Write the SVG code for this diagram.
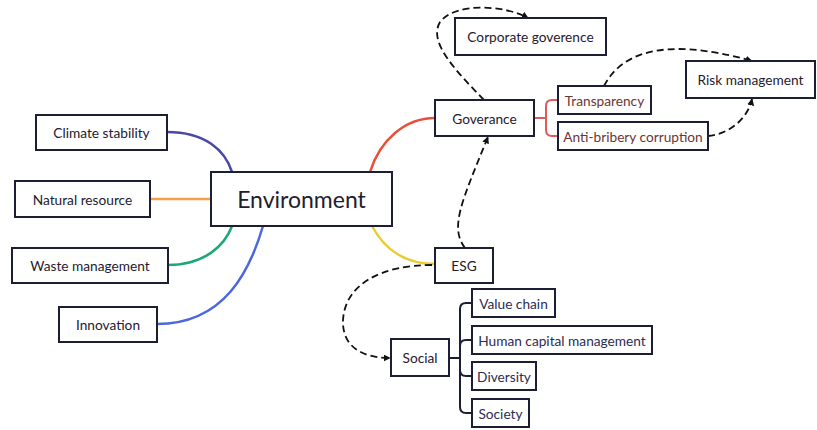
<svg xmlns="http://www.w3.org/2000/svg" width="817" height="430" viewBox="0 0 817 430">
<style>
.box{fill:#fff;stroke:#1c1e36;stroke-width:2}
.t{font-family:Lato,"Noto Sans",sans-serif;font-size:13.7px;fill:#1e2030;text-anchor:middle;dominant-baseline:central}
.tr{fill:#6b3535}
.tn{fill:#2b2d55}
.big{font-size:23px}
.c{fill:none;stroke-width:2.5}
.d{fill:none;stroke:#111;stroke-width:1.8;stroke-dasharray:7 4}
.k{fill:none;stroke:#1c1e36;stroke-width:2}
</style>
<defs>
<marker id="ah" viewBox="0 0 10 10" refX="9" refY="5" markerWidth="7" markerHeight="7" orient="auto-start-reverse" markerUnits="userSpaceOnUse">
<path d="M0,0 L10,5 L0,10 z" fill="#111"/>
</marker>
</defs>
<rect width="817" height="430" fill="#fff"/>
<g id="connectors">
<path class="c" stroke="#4a48a6" d="M167,132 C205,132 225,150 232,172"/>
<path class="c" stroke="#f2a24c" d="M150,199 L211,199"/>
<path class="c" stroke="#1aa874" d="M168,265 C205,265 225,245 232,226"/>
<path class="c" stroke="#4a68dc" d="M157,324 C225,324 250,270 263,226"/>
<path class="c" stroke="#e8503a" d="M370,172 C380,140 405,118 435,118"/>
<path class="c" stroke="#e8cc30" d="M372,226 C385,250 405,264 435,264"/>
<path fill="none" stroke="#e05a5a" stroke-width="2" d="M534,118 L546,118 M558,100 L552,100 Q546,100 546,106 L546,130 Q546,136 552,136 L558,136"/>
<path class="k" d="M449,358 L460,358 M472,303 L466,303 Q460,303 460,309 L460,407 Q460,413 466,413 L472,413 M460,346 Q460,340 466,340 L472,340 M460,370 Q460,376 466,376 L472,376"/>
<path class="d" marker-end="url(#ah)" d="M484,100 C455,70 428,42 440,22 C455,2 505,5 528,18"/>
<path class="d" marker-end="url(#ah)" d="M604,86 C620,55 660,35 752,61"/>
<path class="d" marker-end="url(#ah)" d="M708,136 C730,134 748,118 752,99"/>
<path class="d" marker-end="url(#ah)" d="M465,248 C450,228 460,205 488,137"/>
<path class="d" marker-end="url(#ah)" d="M432,265 C380,265 345,285 343,320 C342,345 360,358 390,358"/>
</g>
<g id="environment"><rect class="box" x="211" y="172" width="181" height="54"/><text class="t big" x="301.5" y="199">Environment</text></g>
<g id="climate"><rect class="box" x="36" y="115" width="131" height="35"/><text class="t" x="101.5" y="132.5">Climate stability</text></g>
<g id="natural"><rect class="box" x="15" y="181" width="135" height="36"/><text class="t" x="82.5" y="199">Natural resource</text></g>
<g id="waste"><rect class="box" x="12" y="248" width="156" height="35"/><text class="t" x="90" y="265.5">Waste management</text></g>
<g id="innovation"><rect class="box" x="59" y="307" width="98" height="35"/><text class="t" x="108" y="324.5">Innovation</text></g>
<g id="governance"><rect class="box" x="435" y="100" width="99" height="36"/><text class="t" x="484.5" y="118">Goverance</text></g>
<g id="corporate"><rect class="box" x="455" y="18" width="151" height="37"/><text class="t" x="530.5" y="36.5">Corporate goverence</text></g>
<g id="transparency"><rect class="box" x="558" y="86" width="93" height="28"/><text class="t tr" x="604.5" y="100">Transparency</text></g>
<g id="antibribery"><rect class="box" x="558" y="122" width="150" height="28"/><text class="t tr" x="633" y="136">Anti-bribery corruption</text></g>
<g id="risk"><rect class="box" x="686" y="61" width="129" height="37"/><text class="t" x="750.5" y="79.5">Risk management</text></g>
<g id="esg"><rect class="box" x="435" y="248" width="58" height="35"/><text class="t" x="464" y="265.5">ESG</text></g>
<g id="social"><rect class="box" x="391" y="339" width="58" height="37"/><text class="t" x="420" y="357.5">Social</text></g>
<g id="valuechain"><rect class="box" x="472" y="289" width="83" height="28"/><text class="t tn" x="513.5" y="303">Value chain</text></g>
<g id="humancapital"><rect class="box" x="472" y="326" width="180" height="28"/><text class="t tn" x="562" y="340">Human capital management</text></g>
<g id="diversity"><rect class="box" x="472" y="362" width="64" height="28"/><text class="t tn" x="504" y="376">Diversity</text></g>
<g id="society"><rect class="box" x="472" y="399" width="57" height="28"/><text class="t tn" x="500.5" y="413">Society</text></g>
</svg>
